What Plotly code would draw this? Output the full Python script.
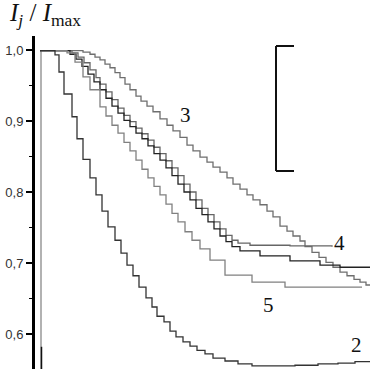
import plotly.graph_objects as go

# ---- data ----
t2 = [0,15,19,24,32,37,43,50,56,62,68,75,81,87,93,99,106,112,117,124,130,136,143,150,157,165,173,185,198,212,230,255,278,298,315,330]
v2 = [0.999,0.993,0.969,0.938,0.906,0.875,0.846,0.820,0.796,0.773,0.751,0.732,0.714,0.697,0.682,0.666,0.651,0.638,0.625,0.617,0.604,0.596,0.589,0.583,0.577,0.572,0.566,0.562,0.558,0.555,0.555,0.556,0.558,0.559,0.561,0.562]

t3 = [0,40,43,50,55,60,65,70,75,80,85,90,96,101,107,113,120,127,133,140,147,153,160,167,173,180,187,193,200,207,213,220,227,233,240,247,253,260,265,272,279,286,293,300,307,314,320,326,330]
v3 = [0.999,0.999,0.997,0.994,0.990,0.986,0.980,0.975,0.968,0.961,0.952,0.944,0.935,0.928,0.921,0.913,0.903,0.894,0.886,0.877,0.866,0.858,0.849,0.842,0.835,0.828,0.820,0.811,0.804,0.796,0.789,0.782,0.773,0.765,0.752,0.745,0.738,0.731,0.723,0.715,0.708,0.701,0.694,0.687,0.682,0.677,0.673,0.669,0.668]

t4 = [0,28,32,38,44,50,56,60,66,72,78,84,90,96,102,108,114,120,126,132,138,144,150,156,162,168,174,180,186,192,198,210,250,292]
v4 = [0.999,0.999,0.996,0.990,0.982,0.972,0.961,0.952,0.941,0.930,0.918,0.908,0.899,0.890,0.882,0.873,0.863,0.854,0.844,0.834,0.823,0.811,0.800,0.789,0.777,0.768,0.758,0.748,0.739,0.732,0.728,0.725,0.724,0.723]

tx = [0,26,30,36,42,48,54,60,66,72,78,84,90,96,102,108,114,120,126,132,138,144,150,156,162,168,174,180,186,192,200,220,250,280,300,330]
vx = [0.999,0.999,0.994,0.987,0.977,0.966,0.955,0.944,0.932,0.921,0.911,0.901,0.892,0.883,0.875,0.865,0.854,0.845,0.834,0.823,0.811,0.800,0.789,0.777,0.768,0.758,0.748,0.738,0.730,0.723,0.717,0.710,0.703,0.697,0.694,0.693]

t5 = [0,22,27,35,43,50,60,66,72,78,84,90,96,102,108,114,120,126,132,138,145,152,160,170,185,212,245,322]
v5 = [0.999,0.999,0.996,0.983,0.962,0.944,0.920,0.907,0.894,0.883,0.870,0.858,0.845,0.832,0.820,0.808,0.796,0.783,0.770,0.758,0.744,0.732,0.720,0.704,0.683,0.673,0.666,0.666]

t1 = [0,1,1]
v1 = [0.999,0.999,0.550]
t1b = [1.5,1.5]
v1b = [0.582,0.550]

ytick_vals = [0.6,0.7,0.8,0.9,1.0]
ytick_text = ["0,6","0,7","0,8","0,9","1,0"]
ymin_vals = [0.65,0.75,0.85,0.95]

labels = ["2","3","4","5"]
label_t = [316,145,299,228]
label_v = [0.585,0.908,0.728,0.641]

fig = go.Figure()
def add(t, v, color, w=1.3, shape="hv"):
    fig.add_trace(go.Scatter(x=t, y=v, mode="lines", line=dict(color=color, width=w, shape=shape),
                             showlegend=False, hoverinfo="skip"))

add(t1, v1, "#999999", 1.5, "linear")
add(t1b, v1b, "#111111", 1.5, "linear")
add(t3, v3, "#6e6e6e")
add(t4, v4, "#666666")
add(tx, vx, "#222222")
add(t5, v5, "#808080")
add(t2, v2, "#333333")

for s, x, y in zip(labels, label_t, label_v):
    fig.add_annotation(x=x, y=y, text=s, showarrow=False,
                       font=dict(family="Liberation Serif", size=21, color="#111"))

fig.add_annotation(xref="paper", yref="paper", x=-0.085, y=1.065, xanchor="left", yanchor="middle",
                   text="<i>I</i><sub><i>j</i></sub> / <i>I</i><sub>max</sub>", showarrow=False,
                   font=dict(family="Liberation Serif", size=25, color="#111"))

# legend bracket (partially visible box)
bx0, bx1 = 236, 254
by0, by1 = 0.8296, 1.0056
for (xa, ya, xb, yb) in [(bx0, by0, bx0, by1), (bx0, by1, bx1, by1), (bx0, by0, bx1, by0)]:
    fig.add_shape(type="line", x0=xa, y0=ya, x1=xb, y1=yb, xref="x", yref="y",
                  line=dict(color="#111", width=2))

fig.update_layout(
    width=370, height=369,
    margin=dict(l=35, r=0, t=36, b=0, autoexpand=False),
    paper_bgcolor="white", plot_bgcolor="white",
    xaxis=dict(visible=False, range=[-5, 330], automargin=False),
    yaxis=dict(range=[0.5507, 1.0197], automargin=False, showline=True, linecolor="#000", linewidth=3,
               showgrid=False, zeroline=False, ticks="outside", ticklen=6, tickwidth=1.5,
               tickcolor="#000", tickvals=ytick_vals, ticktext=ytick_text,
               tickfont=dict(family="Liberation Sans", size=13, color="#333"),
               minor=dict(tickvals=ymin_vals, ticks="outside", ticklen=3, tickwidth=1.5,
                          tickcolor="#000", showgrid=False)),
)

fig.write_html("out.html", config={"displayModeBar": False, "staticPlot": True},
               post_script="document.body.style.margin='0';document.body.style.overflow='hidden';")
